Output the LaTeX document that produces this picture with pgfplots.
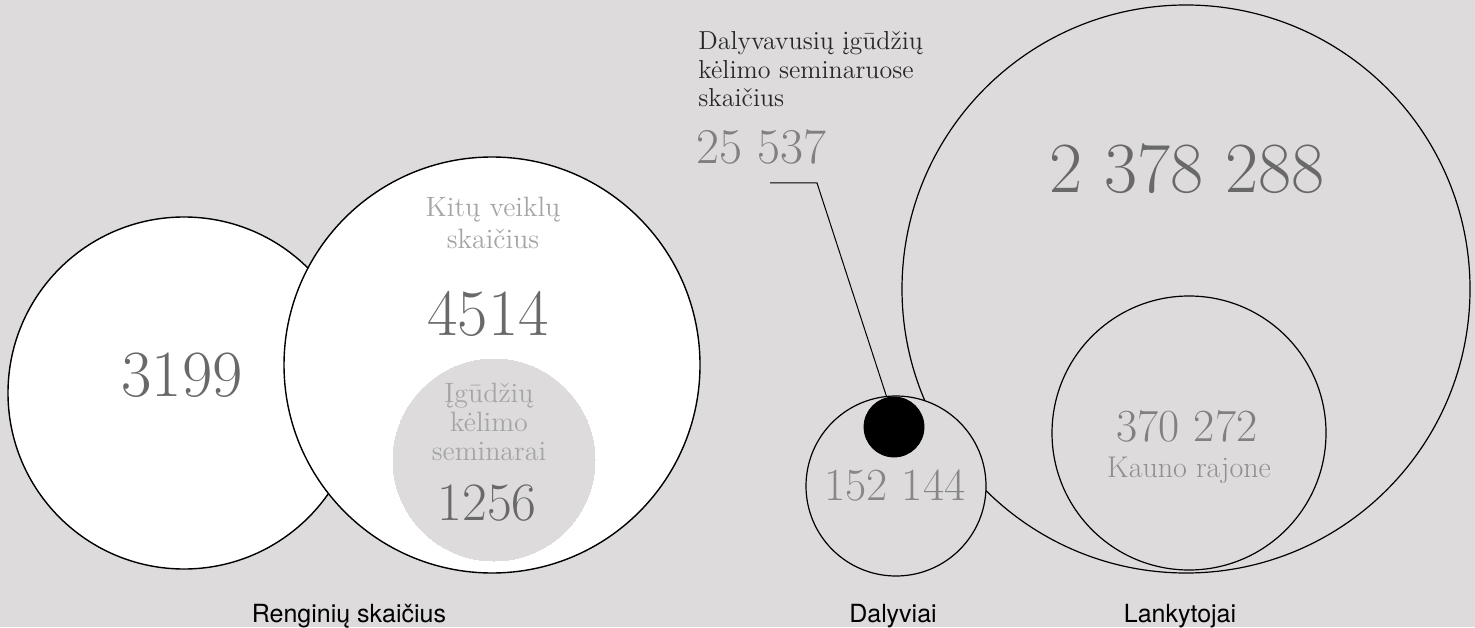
\documentclass[border=0pt]{standalone}
\usepackage{pgfplots}
\pgfplotsset{compat=1.18}
\usepackage{fontspec}
\newfontfamily\heros{TeX Gyre Heros}
\definecolor{bg}{RGB}{221,219,220}
\definecolor{numc}{RGB}{105,105,105}
\definecolor{lblc}{RGB}{165,165,165}
\definecolor{annc}{RGB}{40,40,40}
\newcommand{\fs}[1]{\fontsize{#1}{#1}\selectfont}
\begin{document}
\begin{tikzpicture}
\fill[bg] (0,0) rectangle (737.5pt,313.5pt);
\begin{axis}[at={(0,0)}, anchor=south west, scale only axis,
  width=737.5pt, height=313.5pt, xmin=0, xmax=1475, ymin=0, ymax=627,
  y dir=reverse, hide axis, clip=false, set layers]
% circles: centre (px), radius as mark size (pt = px/2)
\addplot[only marks, mark=*, mark size=88pt, mark options={fill=white, draw=black, line width=0.7pt}] coordinates {(184,393)};
\addplot[only marks, mark=*, mark size=104pt, mark options={fill=white, draw=black, line width=0.7pt}] coordinates {(492,365)};
\addplot[only marks, mark=*, mark size=50.5pt, mark options={fill=bg, draw=bg, line width=0pt}] coordinates {(494,460)};
\addplot[only marks, mark=*, mark size=142pt, mark options={fill=bg, draw=black, line width=0.6pt}] coordinates {(1186,289)};
\addplot[only marks, mark=*, mark size=68.5pt, mark options={fill=bg, draw=black, line width=0.6pt}] coordinates {(1189,433)};
\addplot[only marks, mark=*, mark size=45pt, mark options={fill=bg, draw=black, line width=0.6pt}] coordinates {(896,486)};
\addplot[only marks, mark=*, mark size=15pt, mark options={fill=black, draw=black}] coordinates {(894,427)};
% leader line
\addplot[black, line width=0.5pt, mark=none] coordinates {(770,183) (817,183) (887,398)};
\begin{pgfonlayer}{axis foreground}
% numbers
\node[inner sep=0, text=numc, font=\fs{33}] at (axis cs:182,375) {3199};
\node[inner sep=0, text=numc, font=\fs{33}] at (axis cs:488,314) {4514};
\node[inner sep=0, text=numc, font=\fs{27}] at (axis cs:487,503) {1256};
\node[inner sep=0, text=numc!80, font=\fs{23}] at (axis cs:895,485) {152 144};
\node[inner sep=0, text=numc, font=\fs{36}] at (axis cs:1187,169) {2 378 288};
\node[inner sep=0, text=numc!85, font=\fs{23}] at (axis cs:1187,426) {370 272};
\node[inner sep=0, text=numc!85, font=\fs{25}, anchor=west] at (axis cs:696,147) {25 537};
% light labels
\node[inner sep=0, text=lblc, font=\fs{14}, anchor=base] at (axis cs:493,217) {Kitų veiklų};
\node[inner sep=0, text=lblc, font=\fs{14}, anchor=base] at (axis cs:493,248) {skaičius};
\node[inner sep=0, text=lblc, font=\fs{14}, anchor=base] at (axis cs:489,402) {Įgūdžių};
\node[inner sep=0, text=lblc, font=\fs{14}, anchor=base] at (axis cs:489,431) {kėlimo};
\node[inner sep=0, text=lblc, font=\fs{14}, anchor=base] at (axis cs:489,460) {seminarai};
\node[inner sep=0, text=numc!75, font=\fs{15}, anchor=base] at (axis cs:1189,477) {Kauno rajone};
% annotation
\node[inner sep=0, text=annc, font=\fs{13}, anchor=base west] at (axis cs:698,50) {Dalyvavusių įgūdžių};
\node[inner sep=0, text=annc, font=\fs{13}, anchor=base west] at (axis cs:698,79) {kėlimo seminaruose};
\node[inner sep=0, text=annc, font=\fs{13}, anchor=base west] at (axis cs:698,107) {skaičius};
% category labels
\node[inner sep=0, text=black, font=\heros\fs{12.5}, anchor=base] at (axis cs:349,622) {Renginių skaičius};
\node[inner sep=0, text=black, font=\heros\fs{12.5}, anchor=base] at (axis cs:893,622) {Dalyviai};
\node[inner sep=0, text=black, font=\heros\fs{12.5}, anchor=base] at (axis cs:1180,622) {Lankytojai};
\end{pgfonlayer}
\end{axis}
\pgfresetboundingbox
\path (0,0) rectangle (737.5pt,313.5pt);
\end{tikzpicture}
\end{document}
